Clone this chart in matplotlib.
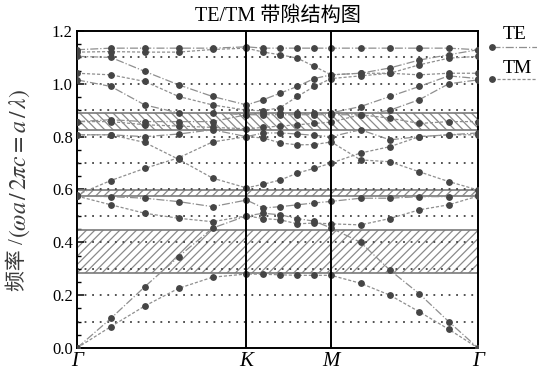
import matplotlib
matplotlib.use("Agg")
import matplotlib.pyplot as plt
from matplotlib.lines import Line2D

plt.rcParams['font.family'] = ['Liberation Serif', 'Noto Sans CJK SC']
plt.rcParams['mathtext.fontset'] = 'stix'
plt.rcParams['hatch.linewidth'] = 0.9

# k-path positions (hexagonal lattice: Γ-K = 1, K-M = 0.5, M-Γ = 0.866)
k_path = [0.000, 0.200, 0.400, 0.600, 0.800, 1.000,
          1.100, 1.200, 1.300, 1.400, 1.500,
          1.673, 1.846, 2.020, 2.193, 2.366]
k_ticks = [0.000, 1.000, 1.500, 2.366]
k_labels = ['Γ', 'K', 'M', 'Γ']

# TE bands (normalized frequency ωa/2πc)
te_bands = [
    [0.000, 0.112, 0.232, 0.346, 0.454, 0.500, 0.510, 0.504, 0.490, 0.480, 0.454, 0.400, 0.295, 0.205, 0.100, 0.000],
    [0.575, 0.573, 0.567, 0.554, 0.535, 0.560, 0.530, 0.535, 0.542, 0.549, 0.555, 0.567, 0.567, 0.573, 0.573, 0.578],
    [0.807, 0.807, 0.800, 0.810, 0.826, 0.800, 0.814, 0.814, 0.810, 0.805, 0.800, 0.826, 0.788, 0.800, 0.807, 0.814],
    [0.857, 0.864, 0.857, 0.857, 0.857, 0.883, 0.883, 0.883, 0.883, 0.883, 0.883, 0.883, 0.900, 0.940, 1.000, 1.015],
    [1.015, 0.990, 0.920, 0.890, 0.890, 0.883, 0.890, 0.890, 0.890, 0.890, 0.890, 0.914, 0.952, 0.990, 1.030, 1.020],
    [1.104, 1.100, 1.047, 0.996, 0.952, 0.920, 0.940, 0.965, 0.990, 1.020, 1.034, 1.040, 1.060, 1.090, 1.110, 1.129],
    [1.129, 1.135, 1.135, 1.135, 1.135, 1.140, 1.135, 1.135, 1.135, 1.135, 1.135, 1.135, 1.135, 1.135, 1.135, 1.129],
]

# TM bands
tm_bands = [
    [0.000, 0.081, 0.159, 0.226, 0.268, 0.280, 0.279, 0.277, 0.275, 0.275, 0.275, 0.245, 0.200, 0.137, 0.071, 0.000],
    [0.575, 0.542, 0.510, 0.491, 0.478, 0.500, 0.490, 0.485, 0.470, 0.473, 0.470, 0.466, 0.490, 0.523, 0.542, 0.575],
    [0.580, 0.634, 0.680, 0.720, 0.780, 0.800, 0.795, 0.776, 0.769, 0.770, 0.780, 0.712, 0.705, 0.667, 0.630, 0.598],
    [0.807, 0.807, 0.778, 0.714, 0.643, 0.606, 0.620, 0.636, 0.662, 0.680, 0.700, 0.738, 0.762, 0.800, 0.807, 0.807],
    [0.857, 0.857, 0.845, 0.840, 0.835, 0.830, 0.835, 0.840, 0.845, 0.850, 0.855, 0.883, 0.870, 0.850, 0.857, 0.857],
    [1.040, 1.034, 1.009, 0.952, 0.920, 0.900, 0.898, 0.910, 0.952, 0.990, 1.020, 1.030, 1.040, 1.072, 1.097, 1.104],
    [1.120, 1.122, 1.120, 1.120, 1.130, 1.135, 1.120, 1.110, 1.097, 1.066, 1.034, 1.040, 1.040, 1.034, 1.040, 1.040],
]

# photonic band gaps (lower, upper edge) and hatch pattern
gap_lower = [0.283, 0.575, 0.827]
gap_upper = [0.447, 0.598, 0.889]
gap_hatch = ['////', '////', '\\\\\\\\']

grid_levels = [0.1, 0.2, 0.3, 0.4, 0.5, 0.6, 0.7, 0.8, 0.9, 1.0, 1.1]
y_ticks = [0.0, 0.2, 0.4, 0.6, 0.8, 1.0, 1.2]

fig = plt.figure(figsize=(5.37, 3.76), dpi=100)
ax = fig.add_axes([0.1434, 0.0745, 0.7467, 0.8431])

for lo, hi, h in zip(gap_lower, gap_upper, gap_hatch):
    ax.axhspan(lo, hi, facecolor='white', edgecolor='#8a8a8a', hatch=h,
               linewidth=0, zorder=1)
    ax.axhline(lo, color='#7a7a7a', lw=1.2, zorder=2)
    ax.axhline(hi, color='#7a7a7a', lw=1.2, zorder=2)

for g in grid_levels:
    ax.axhline(g, color='#444444', lw=1.3, ls=(0, (1, 3.2)), zorder=2)

for kx in k_ticks[1:3]:
    ax.axvline(kx, color='black', lw=1.4, zorder=5)

line_kw = dict(color='#8f8f8f', lw=0.9, marker='o', markersize=3.9,
               markerfacecolor='#454545', markeredgecolor='#454545', zorder=4)
for b in te_bands:
    ax.plot(k_path, b, ls='-.', **line_kw)
for b in tm_bands:
    ax.plot(k_path, b, ls=(0, (2.5, 1.5)), **line_kw)

ax.set_xlim(k_ticks[0], k_ticks[-1])
ax.set_ylim(0, 1.2)
ax.set_xticks(k_ticks)
ax.set_xticklabels(k_labels, fontstyle='italic', fontsize=15)
ax.tick_params(axis='x', length=0, pad=3)
ax.set_yticks(y_ticks)
ax.set_yticklabels([f'{v:.1f}' for v in y_ticks], fontsize=12)
ax.set_yticks([i * 0.05 for i in range(25)], minor=True)
ax.tick_params(axis='y', which='both', direction='in', right=False)
ax.tick_params(axis='y', which='major', length=5, width=1.1, pad=3)
ax.tick_params(axis='y', which='minor', length=3, width=1.0)
for s in ax.spines.values():
    s.set_linewidth(1.4)

ax.set_title('TE/TM 带隙结构图', fontsize=14.5, pad=7)

# y-axis label: Chinese word plus an italic formula, stacked bottom-to-top
lab1 = fig.text(0.034, 0.295, '频率 /', rotation=90, fontsize=15,
                color='#3a3a3a', ha='center', va='center')
fig.canvas.draw()
bb = lab1.get_window_extent().transformed(fig.transFigure.inverted())
fig.text(0.036, bb.y1 + 0.002,
         '$(\\omega a\\,/\\,2\\pi c=a\\,/\\,\\lambda)$', rotation=90,
         fontsize=17, color='#3a3a3a', ha='center', va='bottom')

# series key placed to the right of the axes
for name, y_line, y_text, ls in [('TE', 0.875, 0.907, '-.'),
                                  ('TM', 0.790, 0.819, (0, (2.5, 1.5)))]:
    fig.add_artist(Line2D([0.916, 1.0], [y_line, y_line], transform=fig.transFigure,
                          color='#8f8f8f', lw=0.9, ls=ls, marker='o', markersize=3.9,
                          markevery=[0], markerfacecolor='#454545',
                          markeredgecolor='#454545'))
    fig.text(0.937, y_text, name, fontsize=14, va='center', ha='left')

fig.savefig('out.png', dpi=100)
